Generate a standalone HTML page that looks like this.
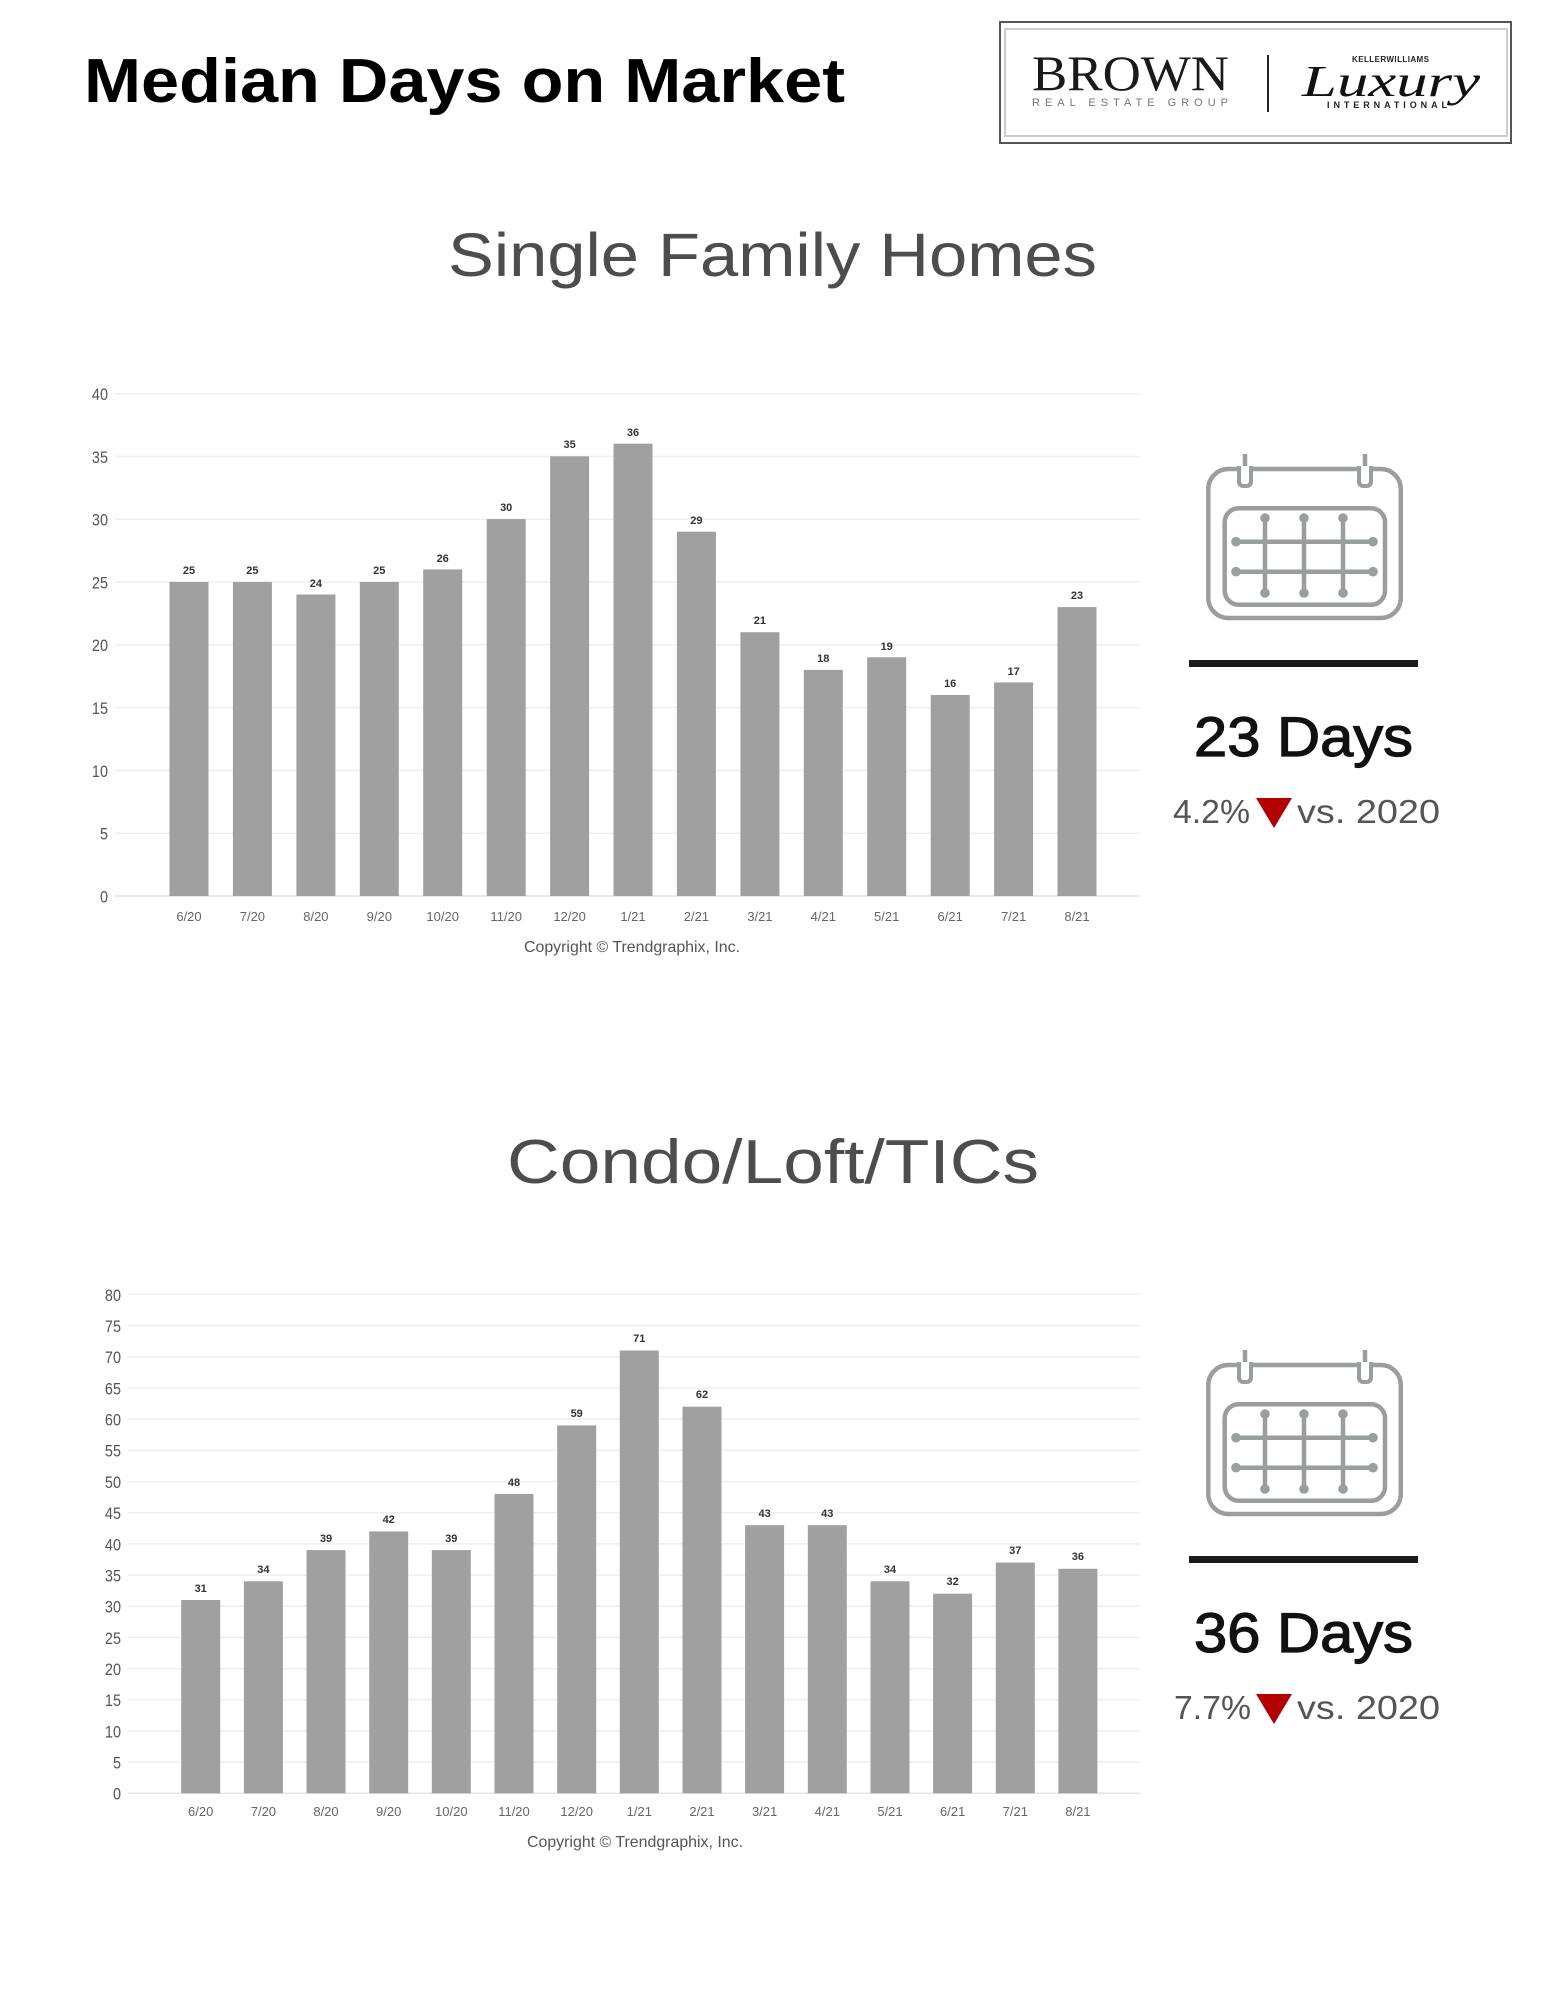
<!DOCTYPE html>
<html><head><meta charset="utf-8"><style>
html,body{margin:0;padding:0;background:#fff;}
svg{display:block;}
.yl{font-family:"Liberation Sans Narrow","Liberation Sans",sans-serif;font-size:17px;fill:#555;text-anchor:end;}
.xl{font-family:"Liberation Sans Narrow","Liberation Sans",sans-serif;font-size:13px;fill:#666;text-anchor:middle;}
.vl{font-family:"Liberation Sans Narrow","Liberation Sans",sans-serif;font-size:11px;font-weight:bold;fill:#333;text-anchor:middle;}
.cp{font-family:"Liberation Sans Narrow","Liberation Sans",sans-serif;font-size:16px;fill:#555;}
.g{stroke:#efefef;stroke-width:1.5;}
.bar{fill:#a0a0a0;}
.cal{fill:none;stroke:#9a9e9d;stroke-width:4.5;}
.dot{fill:#9a9e9d;}
</style></head><body>
<svg width="1545" height="2000" viewBox="0 0 1545 2000" xmlns="http://www.w3.org/2000/svg">
<rect width="1545" height="2000" fill="#fff"/>

<!-- Header -->
<text x="84" y="102" font-family="Liberation Sans, sans-serif" font-weight="bold" font-size="62" fill="#000" textLength="761" lengthAdjust="spacingAndGlyphs">Median Days on Market</text>

<!-- Logo -->
<rect x="1000" y="22" width="511" height="121" fill="#fff" stroke="#555" stroke-width="2"/>
<rect x="1005" y="29" width="502" height="107" fill="none" stroke="#ccc" stroke-width="2"/>
<text x="1032" y="90" font-family="Liberation Serif, serif" font-size="50" fill="#1a1a1a" textLength="197" lengthAdjust="spacingAndGlyphs">BROWN</text>
<text x="1032" y="106" font-family="Liberation Sans, sans-serif" font-size="11" fill="#777" textLength="196" lengthAdjust="spacing">REAL ESTATE GROUP</text>
<line x1="1268" y1="55" x2="1268" y2="112" stroke="#222" stroke-width="2"/>
<text x="1352" y="62" font-family="Liberation Sans, sans-serif" font-weight="bold" font-size="8" fill="#222" textLength="77" lengthAdjust="spacing">KELLERWILLIAMS</text>
<text x="1302" y="96" font-family="Liberation Serif, serif" font-style="italic" font-size="44" fill="#111" textLength="178" lengthAdjust="spacingAndGlyphs">Luxury</text>
<text x="1327" y="108" font-family="Liberation Sans, sans-serif" font-weight="bold" font-size="9" fill="#222" textLength="120" lengthAdjust="spacing">INTERNATIONAL</text>

<!-- Section 1 title -->
<text x="448" y="276" font-family="Liberation Sans, sans-serif" font-size="61" fill="#4d4d4d" textLength="649" lengthAdjust="spacingAndGlyphs">Single Family Homes</text>

<!-- Chart 1 gridlines -->
<g class="g">
<line x1="115" y1="393.6" x2="1140" y2="393.6"/>
<line x1="115" y1="456.4" x2="1140" y2="456.4"/>
<line x1="115" y1="519.2" x2="1140" y2="519.2"/>
<line x1="115" y1="582" x2="1140" y2="582"/>
<line x1="115" y1="644.8" x2="1140" y2="644.8"/>
<line x1="115" y1="707.6" x2="1140" y2="707.6"/>
<line x1="115" y1="770.4" x2="1140" y2="770.4"/>
<line x1="115" y1="833.2" x2="1140" y2="833.2"/>
<line x1="115" y1="896" x2="1140" y2="896" style="stroke:#e4e4e4"/>
</g>
<g transform="translate(108,0) scale(0.85,1) translate(-108,0)">
<text class="yl" x="108" y="400">40</text>
<text class="yl" x="108" y="462.8">35</text>
<text class="yl" x="108" y="525.6">30</text>
<text class="yl" x="108" y="588.4">25</text>
<text class="yl" x="108" y="651.2">20</text>
<text class="yl" x="108" y="714">15</text>
<text class="yl" x="108" y="776.8">10</text>
<text class="yl" x="108" y="839.6">5</text>
<text class="yl" x="108" y="902.4">0</text>
</g>
<g class="bar">
<rect x="169.5" y="581.9" width="39" height="314.1"/>
<rect x="232.9" y="581.9" width="39" height="314.1"/>
<rect x="296.4" y="594.5" width="39" height="301.5"/>
<rect x="359.8" y="581.9" width="39" height="314.1"/>
<rect x="423.2" y="569.4" width="39" height="326.6"/>
<rect x="486.7" y="519.1" width="39" height="376.9"/>
<rect x="550.1" y="456.3" width="39" height="439.7"/>
<rect x="613.5" y="443.7" width="39" height="452.3"/>
<rect x="676.9" y="531.7" width="39" height="364.3"/>
<rect x="740.4" y="632.2" width="39" height="263.8"/>
<rect x="803.8" y="669.9" width="39" height="226.1"/>
<rect x="867.2" y="657.3" width="39" height="238.7"/>
<rect x="930.7" y="695" width="39" height="201"/>
<rect x="994.1" y="682.4" width="39" height="213.6"/>
<rect x="1057.5" y="607.1" width="39" height="288.9"/>
</g>
<g>
<text class="vl" x="189" y="574">25</text>
<text class="vl" x="252.4" y="574">25</text>
<text class="vl" x="315.9" y="587">24</text>
<text class="vl" x="379.3" y="574">25</text>
<text class="vl" x="442.7" y="562">26</text>
<text class="vl" x="506.2" y="511">30</text>
<text class="vl" x="569.6" y="448">35</text>
<text class="vl" x="633" y="436">36</text>
<text class="vl" x="696.4" y="524">29</text>
<text class="vl" x="759.9" y="624">21</text>
<text class="vl" x="823.3" y="662">18</text>
<text class="vl" x="886.7" y="650">19</text>
<text class="vl" x="950.2" y="687">16</text>
<text class="vl" x="1013.6" y="675">17</text>
<text class="vl" x="1077" y="599">23</text>
</g>
<g>
<text class="xl" x="189" y="921">6/20</text>
<text class="xl" x="252.4" y="921">7/20</text>
<text class="xl" x="315.9" y="921">8/20</text>
<text class="xl" x="379.3" y="921">9/20</text>
<text class="xl" x="442.7" y="921">10/20</text>
<text class="xl" x="506.2" y="921">11/20</text>
<text class="xl" x="569.6" y="921">12/20</text>
<text class="xl" x="633" y="921">1/21</text>
<text class="xl" x="696.4" y="921">2/21</text>
<text class="xl" x="759.9" y="921">3/21</text>
<text class="xl" x="823.3" y="921">4/21</text>
<text class="xl" x="886.7" y="921">5/21</text>
<text class="xl" x="950.2" y="921">6/21</text>
<text class="xl" x="1013.6" y="921">7/21</text>
<text class="xl" x="1077" y="921">8/21</text>
</g>
<text class="cp" x="524" y="952" textLength="216" lengthAdjust="spacingAndGlyphs">Copyright © Trendgraphix, Inc.</text>

<!-- Calendar 1 -->
<g id="cal1">
<rect class="cal" x="1208.3" y="469" width="192.5" height="149" rx="20"/>
<line x1="1245" y1="454" x2="1245" y2="468" stroke="#9a9e9d" stroke-width="4.5"/>
<line x1="1365" y1="454" x2="1365" y2="468" stroke="#9a9e9d" stroke-width="4.5"/>
<path d="M1239,466 V481 Q1239,486 1244,486 H1246 Q1251,486 1251,481 V466" fill="#fff" stroke="#9a9e9d" stroke-width="4"/>
<path d="M1359,466 V481 Q1359,486 1364,486 H1366 Q1371,486 1371,481 V466" fill="#fff" stroke="#9a9e9d" stroke-width="4"/>
<rect class="cal" x="1224.7" y="508.2" width="160.3" height="96.5" rx="14"/>
<g stroke="#9a9e9d" stroke-width="4.5">
<line x1="1236" y1="541.7" x2="1373" y2="541.7"/>
<line x1="1236" y1="571.7" x2="1373" y2="571.7"/>
<line x1="1265" y1="518" x2="1265" y2="593"/>
<line x1="1304" y1="518" x2="1304" y2="593"/>
<line x1="1343" y1="518" x2="1343" y2="593"/>
</g>
<g class="dot">
<circle cx="1236" cy="541.7" r="4.8"/><circle cx="1373" cy="541.7" r="4.8"/>
<circle cx="1236" cy="571.7" r="4.8"/><circle cx="1373" cy="571.7" r="4.8"/>
<circle cx="1265" cy="518" r="4.8"/><circle cx="1265" cy="593" r="4.8"/>
<circle cx="1304" cy="518" r="4.8"/><circle cx="1304" cy="593" r="4.8"/>
<circle cx="1343" cy="518" r="4.8"/><circle cx="1343" cy="593" r="4.8"/>
</g>
<rect x="1189" y="660" width="229" height="7" fill="#1a1a1a"/>
</g>
<text x="1194" y="756" font-family="Liberation Sans, sans-serif" font-size="56" fill="#111" stroke="#111" stroke-width="1.2" textLength="219" lengthAdjust="spacingAndGlyphs">23 Days</text>
<text x="1173" y="823" font-family="Liberation Sans, sans-serif" font-size="33" fill="#555" textLength="77" lengthAdjust="spacingAndGlyphs">4.2%</text>
<polygon points="1256,798 1292,798 1274,828" fill="#b30000"/>
<text x="1297" y="823" font-family="Liberation Sans, sans-serif" font-size="33" fill="#555" textLength="143" lengthAdjust="spacingAndGlyphs">vs. 2020</text>

<!-- Section 2 title -->
<text x="507" y="1183" font-family="Liberation Sans, sans-serif" font-size="62" fill="#4d4d4d" textLength="532" lengthAdjust="spacingAndGlyphs">Condo/Loft/TICs</text>

<!-- Chart 2 gridlines -->
<g class="g">
<line x1="128" y1="1294.4" x2="1140" y2="1294.4"/>
<line x1="128" y1="1325.6" x2="1140" y2="1325.6"/>
<line x1="128" y1="1356.8" x2="1140" y2="1356.8"/>
<line x1="128" y1="1388" x2="1140" y2="1388"/>
<line x1="128" y1="1419.1" x2="1140" y2="1419.1"/>
<line x1="128" y1="1450.3" x2="1140" y2="1450.3"/>
<line x1="128" y1="1481.5" x2="1140" y2="1481.5"/>
<line x1="128" y1="1512.7" x2="1140" y2="1512.7"/>
<line x1="128" y1="1543.9" x2="1140" y2="1543.9"/>
<line x1="128" y1="1575.1" x2="1140" y2="1575.1"/>
<line x1="128" y1="1606.2" x2="1140" y2="1606.2"/>
<line x1="128" y1="1637.4" x2="1140" y2="1637.4"/>
<line x1="128" y1="1668.6" x2="1140" y2="1668.6"/>
<line x1="128" y1="1699.8" x2="1140" y2="1699.8"/>
<line x1="128" y1="1731" x2="1140" y2="1731"/>
<line x1="128" y1="1762.1" x2="1140" y2="1762.1"/>
<line x1="128" y1="1793.3" x2="1140" y2="1793.3" style="stroke:#e4e4e4"/>
</g>
<g transform="translate(121,0) scale(0.85,1) translate(-121,0)">
<text class="yl" x="121" y="1300.8">80</text>
<text class="yl" x="121" y="1332">75</text>
<text class="yl" x="121" y="1363.2">70</text>
<text class="yl" x="121" y="1394.4">65</text>
<text class="yl" x="121" y="1425.5">60</text>
<text class="yl" x="121" y="1456.7">55</text>
<text class="yl" x="121" y="1487.9">50</text>
<text class="yl" x="121" y="1519.1">45</text>
<text class="yl" x="121" y="1550.3">40</text>
<text class="yl" x="121" y="1581.5">35</text>
<text class="yl" x="121" y="1612.6">30</text>
<text class="yl" x="121" y="1643.8">25</text>
<text class="yl" x="121" y="1675">20</text>
<text class="yl" x="121" y="1706.2">15</text>
<text class="yl" x="121" y="1737.4">10</text>
<text class="yl" x="121" y="1768.5">5</text>
<text class="yl" x="121" y="1799.7">0</text>
</g>
<g class="bar">
<rect x="181.2" y="1600" width="39" height="193.3"/>
<rect x="243.9" y="1581.3" width="39" height="212"/>
<rect x="306.5" y="1550.1" width="39" height="243.2"/>
<rect x="369.2" y="1531.4" width="39" height="261.9"/>
<rect x="431.8" y="1550.1" width="39" height="243.2"/>
<rect x="494.5" y="1494" width="39" height="299.3"/>
<rect x="557.2" y="1425.4" width="39" height="367.9"/>
<rect x="619.8" y="1350.5" width="39" height="442.8"/>
<rect x="682.5" y="1406.7" width="39" height="386.6"/>
<rect x="745.1" y="1525.2" width="39" height="268.1"/>
<rect x="807.8" y="1525.2" width="39" height="268.1"/>
<rect x="870.5" y="1581.3" width="39" height="212"/>
<rect x="933.1" y="1593.7" width="39" height="199.6"/>
<rect x="995.8" y="1562.6" width="39" height="230.7"/>
<rect x="1058.4" y="1568.8" width="39" height="224.5"/>
</g>
<g>
<text class="vl" x="200.7" y="1592">31</text>
<text class="vl" x="263.4" y="1573">34</text>
<text class="vl" x="326" y="1542">39</text>
<text class="vl" x="388.7" y="1523">42</text>
<text class="vl" x="451.3" y="1542">39</text>
<text class="vl" x="514" y="1486">48</text>
<text class="vl" x="576.7" y="1417">59</text>
<text class="vl" x="639.3" y="1342">71</text>
<text class="vl" x="702" y="1398">62</text>
<text class="vl" x="764.6" y="1517">43</text>
<text class="vl" x="827.3" y="1517">43</text>
<text class="vl" x="890" y="1573">34</text>
<text class="vl" x="952.6" y="1585">32</text>
<text class="vl" x="1015.3" y="1554">37</text>
<text class="vl" x="1077.9" y="1560">36</text>
</g>
<g>
<text class="xl" x="200.7" y="1816">6/20</text>
<text class="xl" x="263.4" y="1816">7/20</text>
<text class="xl" x="326" y="1816">8/20</text>
<text class="xl" x="388.7" y="1816">9/20</text>
<text class="xl" x="451.3" y="1816">10/20</text>
<text class="xl" x="514" y="1816">11/20</text>
<text class="xl" x="576.7" y="1816">12/20</text>
<text class="xl" x="639.3" y="1816">1/21</text>
<text class="xl" x="702" y="1816">2/21</text>
<text class="xl" x="764.6" y="1816">3/21</text>
<text class="xl" x="827.3" y="1816">4/21</text>
<text class="xl" x="890" y="1816">5/21</text>
<text class="xl" x="952.6" y="1816">6/21</text>
<text class="xl" x="1015.3" y="1816">7/21</text>
<text class="xl" x="1077.9" y="1816">8/21</text>
</g>
<text class="cp" x="527" y="1847" textLength="216" lengthAdjust="spacingAndGlyphs">Copyright © Trendgraphix, Inc.</text>

<!-- Calendar 2 -->
<use href="#cal1" transform="translate(0,896)"/>
<text x="1194" y="1652" font-family="Liberation Sans, sans-serif" font-size="56" fill="#111" stroke="#111" stroke-width="1.2" textLength="219" lengthAdjust="spacingAndGlyphs">36 Days</text>
<text x="1174" y="1719" font-family="Liberation Sans, sans-serif" font-size="33" fill="#555" textLength="77" lengthAdjust="spacingAndGlyphs">7.7%</text>
<polygon points="1256,1694 1292,1694 1274,1724" fill="#b30000"/>
<text x="1297" y="1719" font-family="Liberation Sans, sans-serif" font-size="33" fill="#555" textLength="143" lengthAdjust="spacingAndGlyphs">vs. 2020</text>
</svg>
</body></html>
